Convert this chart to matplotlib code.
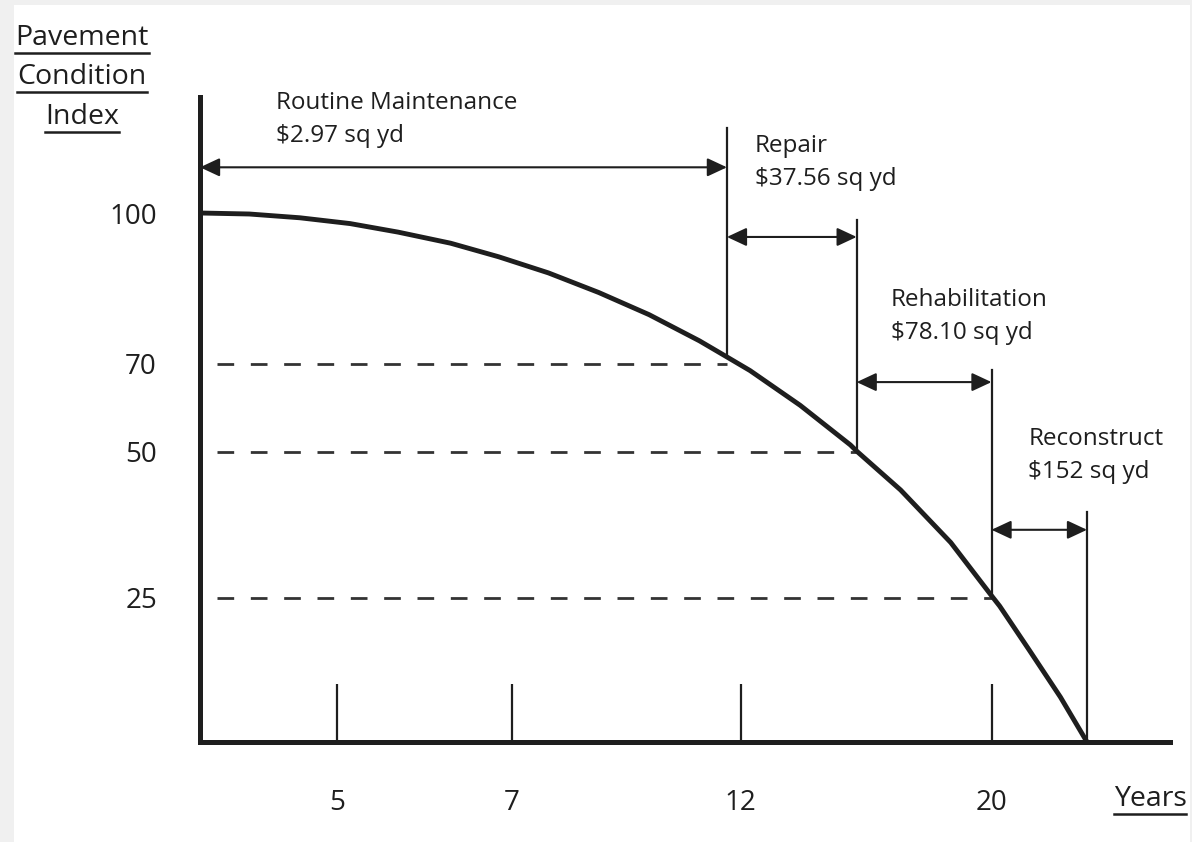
import numpy as np
import matplotlib.pyplot as plt
import matplotlib.transforms as mtransforms
from matplotlib.patches import Rectangle
from matplotlib.lines import Line2D

plt.rcParams['font.family'] = ['Open Sans', 'DejaVu Sans']

# Deterioration curve (years, PCI)
years = [0, 1.8, 3.65, 5.15, 5.7, 6.3, 6.85, 7.8, 8.9, 10.0, 11.1, 11.7,
         12.3, 13.9, 15.5, 15.7, 17.1, 18.7, 20.0, 20.26, 21.2, 22.2, 23.05]
pci = [100, 99.8, 99.05, 97.9, 96.2, 94.0, 91.3, 88.1, 84.2, 79.8, 74.6, 71.4,
       68.5, 60.6, 51.6, 50.2, 43.5, 34.5, 25.4, 23.6, 16.0, 7.8, 0]

# Treatment phases
phase_names = ["Routine Maintenance", "Repair", "Rehabilitation", "Reconstruct"]
phase_costs = ["$2.97 sq yd", "$37.56 sq yd", "$78.10 sq yd", "$152 sq yd"]
phase_start = [0, 11.7, 15.7, 20.0]
phase_end = [11.7, 15.7, 20.0, 23.05]
phase_end_pci = [71.4, 50.2, 25.4, 0]

# Dashed PCI thresholds
threshold_pci = [70, 50, 25]
threshold_year = [11.7, 15.7, 20.0]

year_ticks = [5, 7, 12, 20]
pci_ticks = [100, 70, 50, 25]

# the sketch is schematic, so both axes use piecewise spacing
x_knots = [0, 5, 7, 12, 20, 26]
x_pos = [0, 137, 312, 541, 792, 980]
y_knots = [0, 25, 50, 70, 100, 124]
y_pos = [0, 144, 290, 378, 529, 645]

ink = "#1e1e1e"

fig = plt.figure(figsize=(11.92, 8.42), dpi=100, facecolor="#f0f0f0")
fig.add_artist(Rectangle((14 / 1192, 0), 1176 / 1192, 837 / 842,
                         transform=fig.transFigure, facecolor="white",
                         edgecolor="none", zorder=-5))

ax = fig.add_axes([200 / 1192, 100 / 842, 970 / 1192, 645 / 842])
ax.set_facecolor("none")
ax.set_xscale("function", functions=(lambda v: np.interp(v, x_knots, x_pos),
                                      lambda v: np.interp(v, x_pos, x_knots)))
ax.set_yscale("function", functions=(lambda v: np.interp(v, y_knots, y_pos),
                                      lambda v: np.interp(v, y_pos, y_knots)))
ax.set_xlim(0, 25.7)
ax.set_ylim(0, 124)

for s in ["top", "right"]:
    ax.spines[s].set_visible(False)
for s in ["left", "bottom"]:
    ax.spines[s].set_linewidth(3.6)
    ax.spines[s].set_color(ink)

ax.set_xticks(year_ticks)
ax.set_xticklabels([str(t) for t in year_ticks])
ax.set_yticks(pci_ticks)
ax.set_yticklabels([str(t) for t in pci_ticks])
ax.tick_params(axis="x", direction="in", length=42, width=1.6, pad=34,
               labelsize=20, color=ink, labelcolor=ink)
ax.tick_params(axis="y", length=0, pad=31, labelsize=20, labelcolor=ink)
ax.minorticks_off()

blend = mtransforms.blended_transform_factory(ax.transData, ax.transAxes)


def frac_to_pci(f):
    return ax.transData.inverted().transform(ax.transAxes.transform((0, f)))[1]


def frac_to_year(f):
    return ax.transData.inverted().transform(ax.transAxes.transform((f, 0)))[0]


# curve
ax.plot(years, pci, color=ink, lw=3.5, solid_capstyle="butt",
        solid_joinstyle="round", clip_on=False, zorder=4)

# dashed thresholds
x0 = frac_to_year(0.018)
for lvl, yr in zip(threshold_pci, threshold_year):
    ax.plot([x0, yr], [lvl, lvl], color="#333333", lw=2, dashes=(6, 6), zorder=2)

# phase boundaries, arrows and labels
vline_top = [0.952, 0.809, 0.577, 0.357]
arrow_y = [0.891, 0.783, 0.558, 0.329]
label_x = [0.078, 0.572, 0.712, 0.854]
label_y = [0.991, 0.924, 0.685, 0.470]
line_gap = 33 / 645

for i in range(4):
    ax.plot([phase_end[i], phase_end[i]], [phase_end_pci[i], frac_to_pci(vline_top[i])],
            color=ink, lw=1.6, clip_on=False, zorder=3)
    ax.annotate("", xy=(phase_end[i], arrow_y[i]), xytext=(phase_start[i], arrow_y[i]),
                xycoords=blend, textcoords=blend,
                arrowprops=dict(arrowstyle="<|-|>,head_length=0.6,head_width=0.28",
                                color=ink, lw=1.5, mutation_scale=20,
                                shrinkA=0, shrinkB=0))
    ax.text(label_x[i], label_y[i], phase_names[i], transform=ax.transAxes,
            fontsize=17.5, color=ink, va="center", ha="left", parse_math=False)
    ax.text(label_x[i], label_y[i] - line_gap, phase_costs[i], transform=ax.transAxes,
            fontsize=17.5, color=ink, va="center", ha="left", parse_math=False)

# underlined axis titles
titles = []
for txt, yc in zip(["Pavement", "Condition", "Index"], [38, 77, 117]):
    titles.append(fig.text(82 / 1192, 1 - yc / 842, txt, fontsize=20.5, color=ink,
                           ha="center", va="center"))
titles.append(fig.text(1150 / 1192, 1 - 799 / 842, "Years", fontsize=20.5, color=ink,
                       ha="center", va="center"))

fig.canvas.draw()
W, H = fig.bbox.width, fig.bbox.height
for t in titles:
    bb = t.get_window_extent()
    yline = (bb.y0 - 1) / H
    fig.add_artist(Line2D([bb.x0 / W, bb.x1 / W], [yline, yline],
                          transform=fig.transFigure, color=ink, lw=1.8))

fig.savefig("out.png", dpi=100, facecolor=fig.get_facecolor())
